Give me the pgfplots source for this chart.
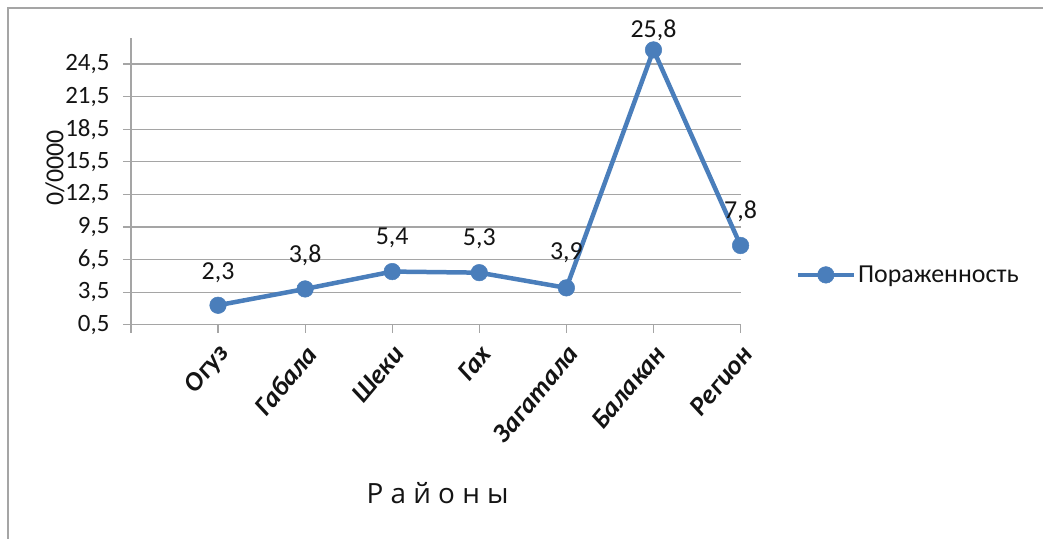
\documentclass[border=0pt]{standalone}
\usepackage{pgfplots}
\pgfplotsset{compat=1.18}
\usepackage{pgfplotstable}
\usepackage{fontspec}
\setmainfont{Carlito}
\newfontfamily\titlefont{Open Sans}

\definecolor{lineblue}{RGB}{74,126,187}
\definecolor{gridgray}{RGB}{165,165,165}
\definecolor{txt}{RGB}{20,20,20}

% x: category position, y: value, dy: label offset above the marker (bp)
\pgfplotstableread{
x y dy
1 2.3 33
2 3.8 34
3 5.4 34
4 5.3 34
5 3.9 35
6 25.8 20
7 7.8 34
}\datatable

\begin{document}
\begin{tikzpicture}
\begin{axis}[
  name=main,
  at={(131bp,214bp)}, anchor=south west,
  scale only axis, width=610bp, height=287bp,
  xmin=0, xmax=7, ymin=0.5, ymax=26.9,
  axis x line*=bottom, axis y line*=left,
  axis line style={gridgray, line width=1.2bp, -},
  tick align=outside, major tick length=8bp,
  tick style={gridgray, line width=1.2bp},
  ymajorgrids, grid style={gridgray, line width=1.2bp},
  clip=false,
  text=txt,
  ytick={0.5,3.5,...,24.5},
  xtick={0,...,7},
  xticklabels={,Огуз,Габала,Шеки,Гах,Загатала,Балакан,Регион},
  /pgf/number format/.cd, use comma, fixed, fixed zerofill, precision=1, assume math mode=true,
  /pgfplots/.cd,
  yticklabel style={font=\fontsize{25}{28}\selectfont, xshift=-10bp},
  xticklabel style={xshift=9bp, yshift=-14bp, rotate=50, anchor=east, font=\bfseries\itshape\fontsize{27}{30}\selectfont},
  ylabel={0/0000},
  ylabel style={at={(axis description cs:-0.1246,0.547)}, anchor=center, font=\fontsize{26}{30}\selectfont},
  xlabel={Р а й о н ы},
  xlabel style={at={(axis description cs:0.503,-0.585)}, anchor=center, font=\titlefont\fontsize{28}{32}\selectfont},
  legend style={at={(axis description cs:1.09,0.174)}, anchor=west, draw=none, fill=none,
    font=\fontsize{26}{30}\selectfont, inner sep=0pt},
  legend image code/.code={\draw[mark repeat=2, mark phase=2, #1] plot coordinates {(0bp,0bp) (28bp,0bp) (56bp,0bp)};},
]
\addplot[lineblue, line width=4.5bp, mark=*, mark size=8.3bp,
  mark options={solid, fill=lineblue, draw=lineblue, line width=0.5bp},
  nodes near coords,
  visualization depends on={\thisrow{dy} \as \labelshift},
  nodes near coords style={text=txt, anchor=center, yshift=\labelshift, font=\fontsize{26}{30}\selectfont},
] table[x=x, y=y] {\datatable};
\addlegendentry{Пораженность}
\end{axis}
% chart frame (left and top edges)
\draw[gridgray, line width=1.2bp] (8bp,0bp) -- (8bp,531bp) -- (1044bp,531bp);
\path (0bp,0bp) (1044bp,539bp);
\end{tikzpicture}
\end{document}
